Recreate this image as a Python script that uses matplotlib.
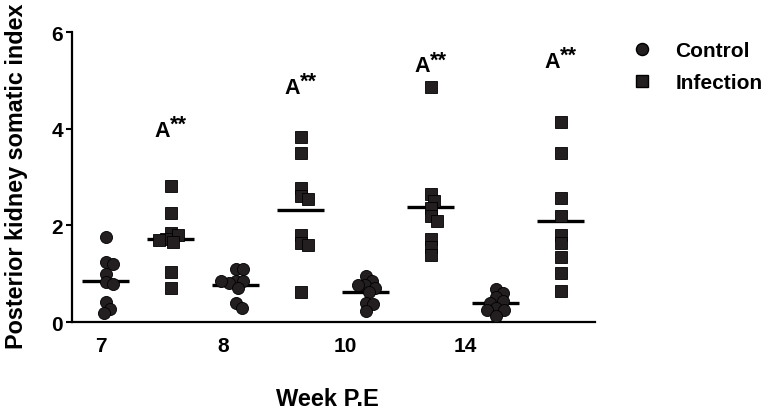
import numpy as np
import matplotlib
matplotlib.use("Agg")
import matplotlib.pyplot as plt
from matplotlib.lines import Line2D
from matplotlib.transforms import offset_copy

plt.rcParams['font.family'] = ['Liberation Sans', 'DejaVu Sans']
plt.rcParams['font.weight'] = 'bold'

# weeks post exposure and the two groups
weeks = ["7", "8", "10", "14"]
groups = ["Control", "Infection"]

control = [
    [1.76, 1.24, 1.20, 0.99, 0.82, 0.78, 0.41, 0.28, 0.19],
    [1.10, 1.09, 0.86, 0.85, 0.80, 0.71, 0.40, 0.30, 0.85],
    [0.95, 0.85, 0.76, 0.76, 0.71, 0.62, 0.40, 0.37, 0.23],
    [0.68, 0.61, 0.51, 0.44, 0.40, 0.30, 0.26, 0.26, 0.12],
]
infection = [
    [2.82, 2.26, 1.85, 1.80, 1.72, 1.70, 1.65, 1.04, 0.71],
    [3.83, 3.50, 2.77, 2.60, 2.55, 1.80, 1.63, 1.59, 0.62],
    [4.87, 2.65, 2.51, 2.37, 2.19, 2.10, 1.73, 1.56, 1.38],
    [4.14, 3.50, 2.56, 2.19, 1.80, 1.63, 1.34, 1.01, 0.64],
]
significance = ["A**", "A**", "A**", "A**"]
sig_height = [3.86, 4.74, 5.19, 5.28]

px_x = 64.9   # pixels per category slot
px_y = 48.2   # pixels per y unit
diam = 7.5    # spacing used for swarm placement (px)


def swarm(values):
    # simple deterministic beeswarm: nearest free horizontal slot
    placed = []
    offsets = []
    for v in values:
        y = v * px_y
        step = 0.0
        while True:
            found = None
            for cand in ([step] if step == 0 else [step, -step]):
                ok = all((cand - px) ** 2 + (y - py) ** 2 >= diam ** 2
                         for px, py in placed)
                if ok:
                    found = cand
                    break
            if found is not None:
                break
            step += 0.5
        placed.append((found, y))
        offsets.append(found / px_x)
    return offsets


fig = plt.figure(figsize=(7.65, 4.1), dpi=100)
ax = fig.add_axes([0.094, 0.212, 0.684, 0.707])

for i, wk in enumerate(weeks):
    for j, (vals, mk) in enumerate([(control[i], 'o'), (infection[i], 's')]):
        xc = 2 * i + j
        offs = swarm(vals)
        ax.plot([xc + o for o in offs], vals, linestyle='none', marker=mk,
                markersize=8.7 if mk == 'o' else 8.2, color='#231F20',
                markeredgecolor='black', markeredgewidth=0.6, zorder=3)
        m = np.mean(vals)
        ax.plot([xc - 0.36, xc + 0.36], [m, m], color='black', lw=2.4,
                solid_capstyle='butt', zorder=2)
    xi = 2 * i + 1
    ax.text(xi, sig_height[i], significance[i][0], ha='right', va='baseline',
            fontsize=15.5, fontweight='bold',
            transform=offset_copy(ax.transData, fig=fig, x=-1, y=0,
                                  units='dots'))
    ax.text(xi, sig_height[i], significance[i][1:], ha='left', va='baseline',
            fontsize=15.5, fontweight='bold',
            transform=offset_copy(ax.transData, fig=fig, x=-1, y=6,
                                  units='dots'))

ax.set_xlim(-0.52, 7.53)
ax.set_ylim(0, 6)
ax.set_yticks([0, 2, 4, 6])
ax.set_xticks([-0.07, 1.80, 3.68, 5.53])
ax.set_xticklabels(weeks)
ax.tick_params(axis='x', length=0, pad=10, labelsize=15)
ax.tick_params(axis='y', length=4.5, width=1.5, pad=2, labelsize=15)
for s in ['top', 'right']:
    ax.spines[s].set_visible(False)
for s in ['left', 'bottom']:
    ax.spines[s].set_linewidth(1.6)

fig.text(327 / 765, 4 / 410, "Week P.E", ha='center', va='baseline',
         fontsize=17, fontweight='bold')
fig.text(17 / 765, 1 - 176 / 410, "Posterior kidney somatic index",
         rotation=90, ha='center', va='center', fontsize=16.8,
         fontweight='bold')

handles = [Line2D([], [], linestyle='none', marker='o', markersize=8.7,
                  color='#231F20', markeredgecolor='black'),
           Line2D([], [], linestyle='none', marker='s', markersize=8.2,
                  color='#231F20', markeredgecolor='black')]
fig.legend(handles, groups, loc='upper left', bbox_to_anchor=(0.815, 0.918),
           frameon=False, fontsize=15, handletextpad=1.1, labelspacing=0.62,
           handlelength=1.0, borderaxespad=0)

fig.savefig("out.png", dpi=100)
